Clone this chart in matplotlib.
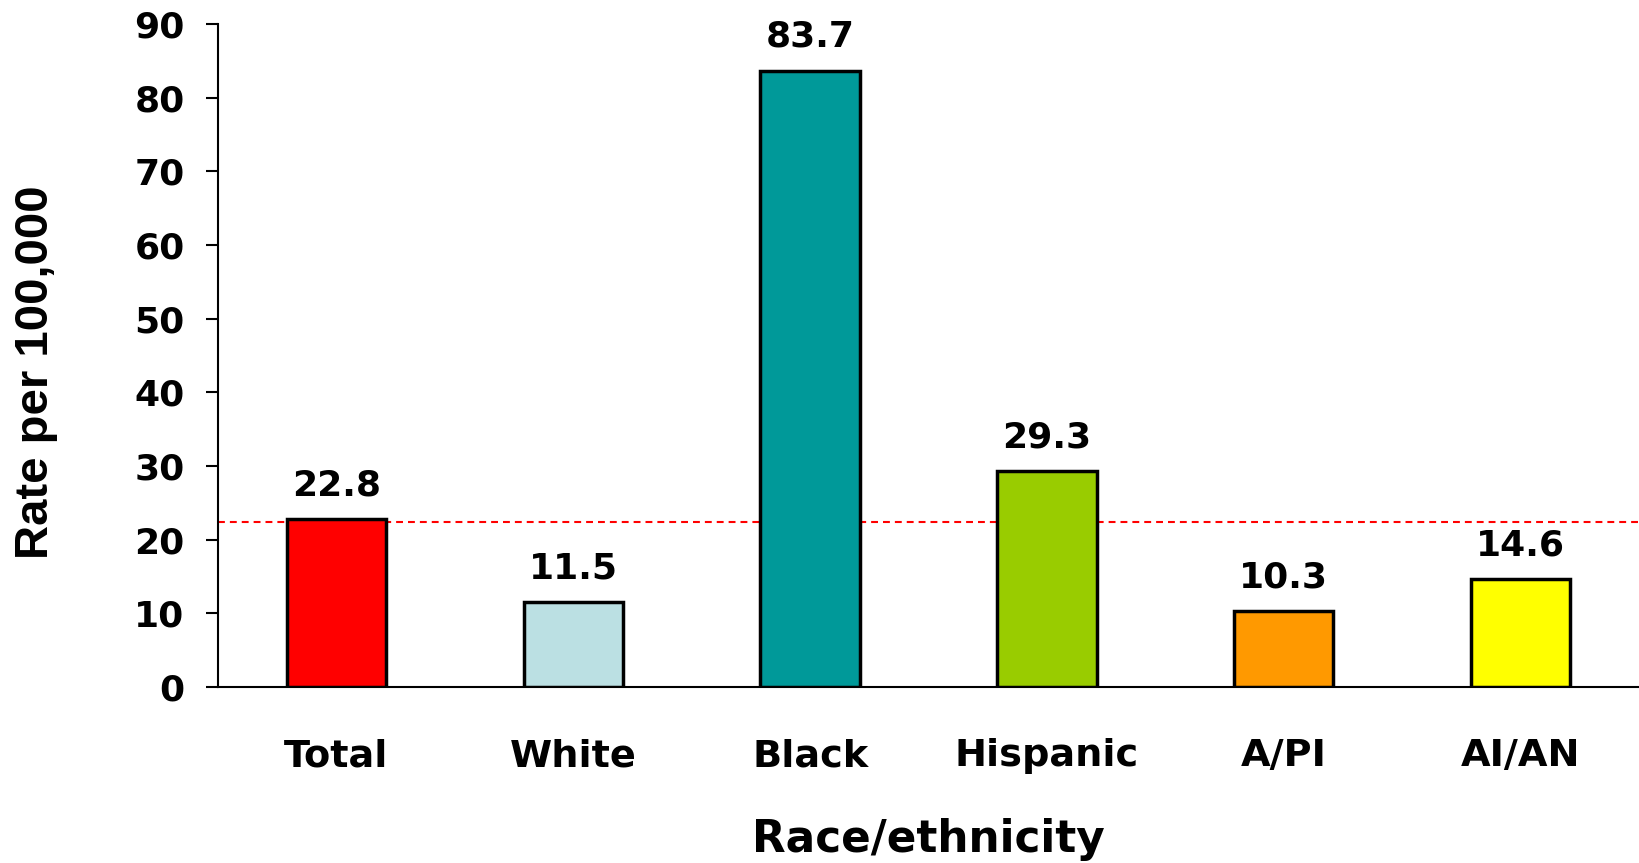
import matplotlib
matplotlib.use("Agg")
import matplotlib.pyplot as plt
import numpy as np

# data
groups = ["Total", "White", "Black", "Hispanic", "A/PI", "AI/AN"]
rates = [22.8, 11.5, 83.7, 29.3, 10.3, 14.6]
bar_colors = ["#FF0000", "#BBE0E3", "#009999", "#99CC00", "#FF9900", "#FFFF00"]
ref_line = 22.4
y_ticks = [0, 10, 20, 30, 40, 50, 60, 70, 80, 90]

fig = plt.figure(figsize=(16.39, 8.63), dpi=100)
ax = fig.add_axes([0.133, 0.204, 0.867, 0.768])

x = np.arange(len(groups))
ax.bar(x, rates, 0.42, color=bar_colors, edgecolor="black", linewidth=2.5, zorder=3)
ax.axhline(ref_line, color="#FF0000", linestyle=(0, (3.3, 2.4)), linewidth=1.5, zorder=2)

for i, v in enumerate(rates):
    ax.annotate(f"{v:.1f}", (i, v), xytext=(0, 17), textcoords="offset points",
                ha="center", va="baseline", fontsize=26, fontweight="bold")

ax.set_xlim(-0.5, 5.5)
ax.set_ylim(0, 90)
ax.set_yticks(y_ticks)
ax.set_xticks(x)
ax.set_xticklabels(groups, fontsize=27.5, fontweight="bold")
ax.tick_params(axis="y", labelsize=26, length=9, width=1.5, direction="out", pad=15)
for lbl in ax.get_yticklabels():
    lbl.set_fontweight("bold")
ax.tick_params(axis="x", length=0, pad=37)

for s in ["top", "right"]:
    ax.spines[s].set_visible(False)
ax.spines["left"].set_linewidth(1.5)
ax.spines["bottom"].set_linewidth(1.5)

ax.set_xlabel("Race/ethnicity", fontsize=31.5, fontweight="bold")
ax.xaxis.set_label_coords(0.5, -0.198)
ax.set_ylabel("Rate per 100,000", fontsize=34, fontweight="bold",
              family="Liberation Sans", va="center")
ax.yaxis.set_label_coords(-0.128, 0.475)

fig.savefig("out.png", dpi=100)
